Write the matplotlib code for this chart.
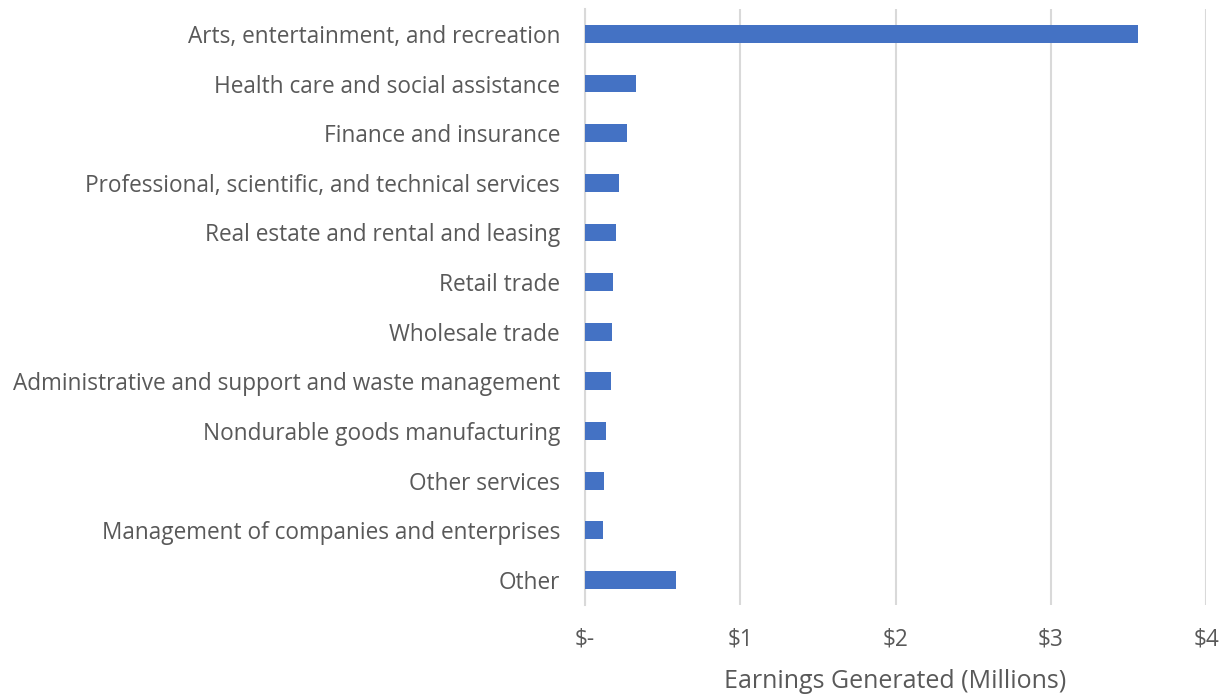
import matplotlib
matplotlib.use("Agg")
import matplotlib.pyplot as plt

categories = [
    "Arts, entertainment, and recreation",
    "Health care and social assistance",
    "Finance and insurance",
    "Professional, scientific, and technical services",
    "Real estate and rental and leasing",
    "Retail trade",
    "Wholesale trade",
    "Administrative and support and waste management",
    "Nondurable goods manufacturing",
    "Other services",
    "Management of companies and enterprises",
    "Other",
]
earnings_millions = [3.56, 0.33, 0.27, 0.22, 0.20, 0.18, 0.176, 0.17, 0.133, 0.125, 0.118, 0.584]
x_ticks = [0, 1, 2, 3, 4]
x_tick_labels = ["$-", "$1", "$2", "$3", "$4"]
x_label = "Earnings Generated (Millions)"

plt.rcParams["font.family"] = ["Open Sans", "DejaVu Sans"]
text_color = "#595959"
grid_color = "#d9d9d9"
bar_color = "#4472C4"

fig = plt.figure(figsize=(12.25, 6.96), dpi=100)
ax = fig.add_axes([0.4776, 0.131, 0.5069, 0.856])

positions = list(range(len(categories)))
ax.barh(positions, earnings_millions, height=0.36, color=bar_color, zorder=3)

ax.set_xlim(0, 4)
ax.set_ylim(len(categories) - 0.5, -0.5)
ax.set_yticks(positions)
ax.set_yticklabels(categories)
ax.set_xticks(x_ticks)
ax.set_xticklabels(x_tick_labels)

ax.grid(axis="x", color=grid_color, linewidth=1.5, zorder=0)
for side in ["top", "right", "bottom"]:
    ax.spines[side].set_visible(False)
ax.spines["left"].set_color(grid_color)
ax.spines["left"].set_linewidth(1.5)

ax.tick_params(axis="both", length=0, colors=text_color, labelsize=16.3)
ax.tick_params(axis="y", pad=18)
ax.tick_params(axis="x", pad=16)
ax.set_xlabel(x_label, color=text_color, fontsize=18, labelpad=13)

fig.savefig("out.png", dpi=100)
